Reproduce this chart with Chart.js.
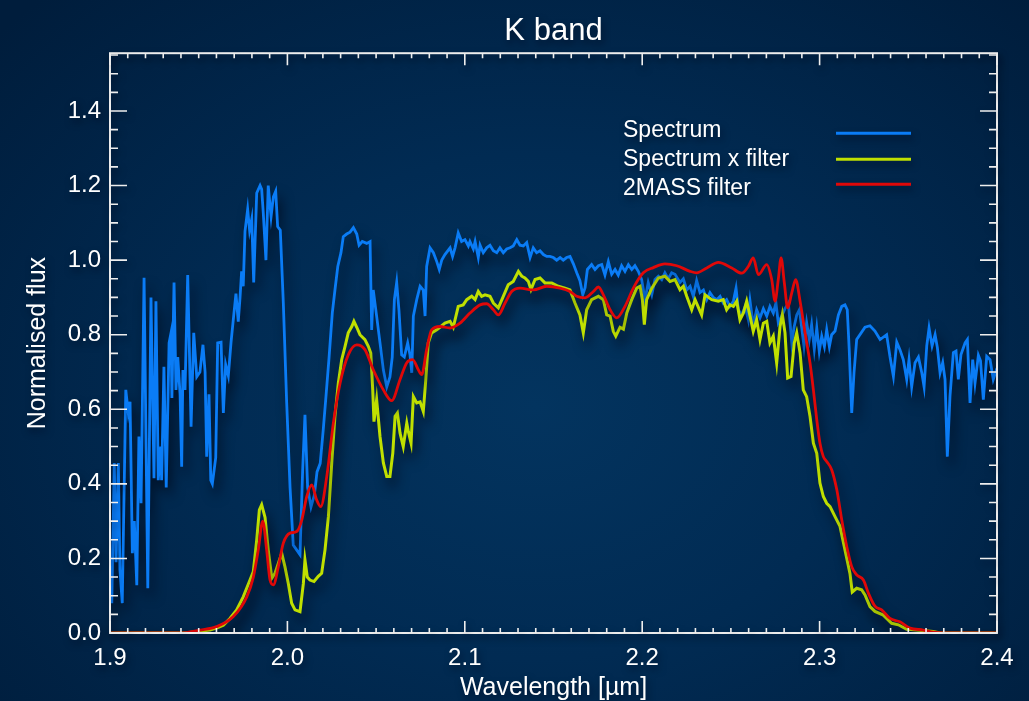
<!DOCTYPE html>
<html>
<head>
<meta charset="utf-8">
<title>K band</title>
<script src="https://cdn.jsdelivr.net/npm/chart.js@4/dist/chart.umd.min.js"></script>
<style>
  html, body {
    margin: 0;
    padding: 0;
    width: 1029px;
    height: 701px;
    overflow: hidden;
    background: radial-gradient(ellipse 70% 80% at 52% 58%, #03345f 0%, #012b53 45%, #001d3c 100%);
  }
  canvas { display: block; }
</style>
</head>
<body>
<canvas id="kband" width="1029" height="701"></canvas>
<script>
// Spectrum (wavelength in micron, normalised flux)
const specWave = [
  1.9000, 1.9010, 1.9024, 1.9034, 1.9047, 1.9056, 1.9069, 1.9089, 1.9103, 1.9113,
  1.9126, 1.9137, 1.9151, 1.9163, 1.9175, 1.9192, 1.9213, 1.9231, 1.9248, 1.9259,
  1.9272, 1.9286, 1.9291, 1.9304, 1.9317, 1.9333, 1.9344, 1.9349, 1.9361, 1.9372,
  1.9382, 1.9395, 1.9404, 1.9411, 1.9423, 1.9438, 1.9445, 1.9457, 1.9472, 1.9489,
  1.9507, 1.9524, 1.9536, 1.9545, 1.9558, 1.9568, 1.9577, 1.9596, 1.9607, 1.9626,
  1.9639, 1.9652, 1.9667, 1.9682, 1.9697, 1.9710, 1.9723, 1.9733, 1.9742, 1.9751,
  1.9761, 1.9776, 1.9787, 1.9799, 1.9810, 1.9827, 1.9846, 1.9855, 1.9864, 1.9879,
  1.9892, 1.9908, 1.9921, 1.9934, 1.9945, 1.9960, 1.9977, 1.9996, 2.0015, 2.0033,
  2.0052, 2.0071, 2.0086, 2.0099, 2.0114, 2.0133, 2.0152, 2.0167, 2.0185, 2.0202,
  2.0216, 2.0235, 2.0253, 2.0268, 2.0284, 2.0302, 2.0315, 2.0334, 2.0353, 2.0372,
  2.0391, 2.0404, 2.0422, 2.0447, 2.0466, 2.0475, 2.0484, 2.0503, 2.0522, 2.0541,
  2.0560, 2.0578, 2.0591, 2.0603, 2.0616, 2.0629, 2.0644, 2.0659, 2.0678, 2.0691,
  2.0701, 2.0710, 2.0729, 2.0748, 2.0766, 2.0776, 2.0785, 2.0804, 2.0823, 2.0842,
  2.0856, 2.0870, 2.0888, 2.0917, 2.0931, 2.0945, 2.0963, 2.0982, 2.1001, 2.1020,
  2.1029, 2.1048, 2.1058, 2.1076, 2.1086, 2.1104, 2.1123, 2.1142, 2.1161, 2.1180,
  2.1198, 2.1217, 2.1236, 2.1255, 2.1273, 2.1293, 2.1311, 2.1330, 2.1349, 2.1368,
  2.1386, 2.1405, 2.1424, 2.1443, 2.1462, 2.1480, 2.1499, 2.1518, 2.1537, 2.1555,
  2.1574, 2.1593, 2.1612, 2.1631, 2.1649, 2.1665, 2.1678, 2.1691, 2.1715, 2.1734,
  2.1753, 2.1772, 2.1790, 2.1809, 2.1828, 2.1847, 2.1865, 2.1884, 2.1903, 2.1922,
  2.1941, 2.1959, 2.1978, 2.1997, 2.2016, 2.2034, 2.2054, 2.2072, 2.2091, 2.2110,
  2.2128, 2.2147, 2.2166, 2.2185, 2.2213, 2.2232, 2.2251, 2.2270, 2.2288, 2.2307,
  2.2326, 2.2345, 2.2364, 2.2382, 2.2401, 2.2420, 2.2439, 2.2457, 2.2476, 2.2495,
  2.2514, 2.2529, 2.2542, 2.2561, 2.2580, 2.2598, 2.2608, 2.2626, 2.2645, 2.2664,
  2.2683, 2.2702, 2.2720, 2.2739, 2.2754, 2.2767, 2.2786, 2.2805, 2.2824, 2.2843,
  2.2856, 2.2871, 2.2886, 2.2899, 2.2912, 2.2927, 2.2942, 2.2955, 2.2970, 2.2984,
  2.2998, 2.3012, 2.3027, 2.3040, 2.3055, 2.3068, 2.3087, 2.3106, 2.3125, 2.3143,
  2.3156, 2.3167, 2.3181, 2.3194, 2.3209, 2.3256, 2.3284, 2.3312, 2.3341, 2.3378,
  2.3397, 2.3416, 2.3435, 2.3453, 2.3472, 2.3491, 2.3504, 2.3519, 2.3538, 2.3557,
  2.3576, 2.3589, 2.3604, 2.3617, 2.3634, 2.3651, 2.3664, 2.3679, 2.3694, 2.3707,
  2.3720, 2.3735, 2.3754, 2.3769, 2.3782, 2.3797, 2.3820, 2.3833, 2.3848, 2.3863,
  2.3876, 2.3895, 2.3907, 2.3923, 2.3942, 2.3961, 2.3979, 2.4000
];
const specFlux = [
  0.160, 0.080, 0.456, 0.190, 0.456, 0.170, 0.080, 0.652, 0.590, 0.620,
  0.214, 0.300, 0.128, 0.527, 0.348, 0.953, 0.120, 0.900, 0.415, 0.890,
  0.410, 0.500, 0.410, 0.714, 0.390, 0.778, 0.805, 0.630, 0.940, 0.652,
  0.740, 0.640, 0.446, 0.705, 0.652, 0.960, 0.813, 0.553, 0.805, 0.687,
  0.700, 0.773, 0.700, 0.473, 0.640, 0.410, 0.400, 0.470, 0.778, 0.780,
  0.590, 0.720, 0.690, 0.778, 0.850, 0.910, 0.835, 0.900, 0.970, 0.930,
  1.077, 1.136, 1.080, 1.110, 0.940, 1.180, 1.200, 1.190, 1.127, 1.000,
  1.200, 1.117, 1.170, 1.185, 1.090, 1.080, 0.885, 0.617, 0.390, 0.236,
  0.223, 0.210, 0.437, 0.585, 0.390, 0.338, 0.370, 0.432, 0.455, 0.545,
  0.626, 0.740, 0.858, 0.920, 0.983, 1.020, 1.063, 1.070, 1.075, 1.087,
  1.070, 1.040, 1.050, 1.045, 1.050, 0.813, 0.920, 0.850, 0.778, 0.705,
  0.660, 0.687, 0.740, 0.894, 0.940, 0.865, 0.746, 0.740, 0.778, 0.746,
  0.698, 0.850, 0.894, 0.930, 0.920, 0.850, 0.983, 1.033, 1.020, 0.996,
  0.975, 1.000, 1.015, 1.033, 1.010, 1.033, 1.073, 1.050, 1.055, 1.038,
  1.050, 1.030, 1.050, 1.007, 1.040, 1.020, 1.033, 1.040, 1.025, 1.020,
  1.033, 1.020, 1.030, 1.033, 1.038, 1.055, 1.040, 1.038, 1.047, 1.007,
  1.033, 1.020, 1.025, 1.015, 1.010, 1.010, 1.007, 1.000, 1.007, 1.000,
  1.007, 1.010, 0.990, 0.966, 0.945, 0.907, 0.926, 0.975, 0.988, 0.975,
  0.985, 0.988, 0.960, 0.996, 0.962, 0.975, 0.960, 0.985, 0.970, 0.988,
  0.975, 0.985, 0.970, 0.948, 0.894, 0.940, 0.907, 0.948, 0.957, 0.948,
  0.966, 0.950, 0.966, 0.962, 0.940, 0.950, 0.920, 0.930, 0.903, 0.945,
  0.913, 0.920, 0.894, 0.913, 0.900, 0.894, 0.903, 0.885, 0.894, 0.876,
  0.890, 0.925, 0.867, 0.853, 0.876, 0.840, 0.890, 0.827, 0.867, 0.845,
  0.870, 0.850, 0.876, 0.858, 0.885, 0.832, 0.850, 0.870, 0.885, 0.778,
  0.820, 0.853, 0.867, 0.820, 0.768, 0.832, 0.787, 0.827, 0.760, 0.818,
  0.755, 0.796, 0.768, 0.813, 0.768, 0.800, 0.810, 0.853, 0.876, 0.880,
  0.867, 0.760, 0.590, 0.698, 0.787, 0.820, 0.824, 0.810, 0.787, 0.800,
  0.740, 0.688, 0.780, 0.760, 0.733, 0.680, 0.733, 0.660, 0.725, 0.740,
  0.698, 0.660, 0.770, 0.818, 0.770, 0.800, 0.765, 0.698, 0.725, 0.680,
  0.473, 0.635, 0.752, 0.756, 0.680, 0.747, 0.778, 0.787, 0.617, 0.733,
  0.670, 0.745, 0.730, 0.626, 0.742, 0.733, 0.680, 0.710
];

// Spectrum multiplied by the filter
const prodWave = [
  1.9000, 1.9423, 1.9470, 1.9564, 1.9601, 1.9639, 1.9676, 1.9714, 1.9751, 1.9789,
  1.9808, 1.9827, 1.9842, 1.9855, 1.9874, 1.9892, 1.9912, 1.9930, 1.9949, 1.9968,
  1.9986, 2.0005, 2.0024, 2.0043, 2.0071, 2.0090, 2.0099, 2.0112, 2.0127, 2.0150,
  2.0174, 2.0193, 2.0212, 2.0231, 2.0250, 2.0268, 2.0287, 2.0306, 2.0325, 2.0343,
  2.0363, 2.0375, 2.0391, 2.0409, 2.0437, 2.0456, 2.0470, 2.0481, 2.0488, 2.0503,
  2.0522, 2.0541, 2.0560, 2.0578, 2.0594, 2.0607, 2.0620, 2.0635, 2.0653, 2.0673,
  2.0682, 2.0697, 2.0710, 2.0729, 2.0748, 2.0766, 2.0780, 2.0794, 2.0813, 2.0842,
  2.0860, 2.0888, 2.0917, 2.0935, 2.0963, 2.0991, 2.1011, 2.1039, 2.1058, 2.1076,
  2.1095, 2.1114, 2.1142, 2.1161, 2.1189, 2.1217, 2.1245, 2.1273, 2.1302, 2.1321,
  2.1339, 2.1358, 2.1373, 2.1396, 2.1424, 2.1452, 2.1490, 2.1527, 2.1565, 2.1593,
  2.1621, 2.1649, 2.1668, 2.1687, 2.1715, 2.1753, 2.1781, 2.1800, 2.1819, 2.1837,
  2.1851, 2.1875, 2.1894, 2.1913, 2.1941, 2.1969, 2.1988, 2.2001, 2.2012, 2.2025,
  2.2054, 2.2091, 2.2128, 2.2157, 2.2185, 2.2213, 2.2232, 2.2251, 2.2279, 2.2298,
  2.2335, 2.2354, 2.2392, 2.2429, 2.2457, 2.2476, 2.2495, 2.2514, 2.2533, 2.2551,
  2.2570, 2.2589, 2.2608, 2.2626, 2.2645, 2.2664, 2.2683, 2.2702, 2.2720, 2.2739,
  2.2758, 2.2777, 2.2790, 2.2805, 2.2820, 2.2839, 2.2857, 2.2871, 2.2890, 2.2908,
  2.2927, 2.2946, 2.2965, 2.2984, 2.3002, 2.3021, 2.3040, 2.3059, 2.3087, 2.3115,
  2.3143, 2.3171, 2.3184, 2.3209, 2.3237, 2.3256, 2.3284, 2.3312, 2.3359, 2.3406,
  2.3444, 2.3491, 2.3548, 2.3641, 2.3679, 2.4000
];
const prodFlux = [
  0.000, 0.000, 0.003, 0.008, 0.013, 0.021, 0.039, 0.062, 0.097, 0.142,
  0.165, 0.250, 0.330, 0.344, 0.310, 0.223, 0.147, 0.160, 0.187, 0.214,
  0.178, 0.133, 0.080, 0.062, 0.057, 0.133, 0.196, 0.150, 0.142, 0.138,
  0.152, 0.160, 0.223, 0.312, 0.456, 0.581, 0.670, 0.733, 0.769, 0.805,
  0.822, 0.836, 0.820, 0.800, 0.787, 0.769, 0.751, 0.652, 0.567, 0.626,
  0.527, 0.456, 0.420, 0.420, 0.482, 0.581, 0.590, 0.536, 0.500, 0.563,
  0.540, 0.509, 0.634, 0.617, 0.620, 0.594, 0.679, 0.778, 0.805, 0.813,
  0.820, 0.831, 0.836, 0.820, 0.876, 0.880, 0.894, 0.903, 0.894, 0.916,
  0.903, 0.907, 0.903, 0.885, 0.872, 0.903, 0.934, 0.943, 0.970, 0.957,
  0.952, 0.943, 0.921, 0.948, 0.952, 0.939, 0.939, 0.930, 0.925, 0.920,
  0.885, 0.853, 0.805, 0.867, 0.894, 0.903, 0.894, 0.853, 0.850, 0.809,
  0.796, 0.820, 0.815, 0.858, 0.894, 0.925, 0.930, 0.894, 0.827, 0.894,
  0.925, 0.952, 0.957, 0.943, 0.948, 0.921, 0.930, 0.903, 0.867, 0.894,
  0.853, 0.907, 0.894, 0.890, 0.894, 0.867, 0.880, 0.876, 0.890, 0.840,
  0.858, 0.890, 0.850, 0.809, 0.840, 0.787, 0.831, 0.836, 0.778, 0.796,
  0.724, 0.822, 0.854, 0.805, 0.684, 0.688, 0.778, 0.805, 0.751, 0.652,
  0.634, 0.581, 0.509, 0.482, 0.402, 0.366, 0.348, 0.339, 0.312, 0.286,
  0.223, 0.160, 0.110, 0.120, 0.116, 0.102, 0.071, 0.058, 0.048, 0.026,
  0.022, 0.010, 0.008, 0.004, 0.000, 0.000
];

// 2MASS Ks filter transmission
const filterWave = [
  1.9000, 1.9395, 1.9507, 1.9601, 1.9695, 1.9771, 1.9808, 1.9836, 1.9861, 1.9883,
  1.9902, 1.9921, 1.9949, 1.9977, 2.0015, 2.0052, 2.0081, 2.0109, 2.0137, 2.0165,
  2.0188, 2.0222, 2.0259, 2.0297, 2.0343, 2.0391, 2.0437, 2.0484, 2.0541, 2.0588,
  2.0635, 2.0673, 2.0706, 2.0738, 2.0757, 2.0785, 2.0813, 2.0860, 2.0917, 2.0973,
  2.1029, 2.1086, 2.1123, 2.1161, 2.1189, 2.1227, 2.1264, 2.1311, 2.1386, 2.1462,
  2.1537, 2.1593, 2.1631, 2.1678, 2.1725, 2.1753, 2.1781, 2.1819, 2.1856, 2.1903,
  2.1950, 2.2006, 2.2063, 2.2128, 2.2195, 2.2270, 2.2307, 2.2364, 2.2429, 2.2505,
  2.2561, 2.2598, 2.2626, 2.2655, 2.2702, 2.2730, 2.2749, 2.2767, 2.2783, 2.2801,
  2.2820, 2.2843, 2.2865, 2.2890, 2.2918, 2.2946, 2.2965, 2.2984, 2.3002, 2.3021,
  2.3040, 2.3068, 2.3097, 2.3125, 2.3153, 2.3181, 2.3209, 2.3247, 2.3275, 2.3312,
  2.3350, 2.3397, 2.3453, 2.3510, 2.3585, 2.3641, 2.3700, 2.4000
];
const filterFlux = [
  0.000, 0.000, 0.008, 0.017, 0.044, 0.097, 0.150, 0.223, 0.300, 0.223,
  0.142, 0.129, 0.178, 0.241, 0.268, 0.272, 0.303, 0.366, 0.397, 0.357,
  0.339, 0.420, 0.563, 0.670, 0.746, 0.773, 0.760, 0.706, 0.652, 0.623,
  0.680, 0.725, 0.733, 0.706, 0.693, 0.760, 0.813, 0.822, 0.818, 0.831,
  0.858, 0.880, 0.883, 0.867, 0.853, 0.885, 0.916, 0.925, 0.920, 0.930,
  0.925, 0.916, 0.903, 0.899, 0.916, 0.928, 0.907, 0.867, 0.845, 0.876,
  0.925, 0.966, 0.980, 0.990, 0.985, 0.970, 0.966, 0.979, 0.994, 0.979,
  0.965, 0.983, 1.006, 0.961, 0.988, 0.948, 0.890, 0.948, 1.006, 0.940,
  0.872, 0.912, 0.948, 0.890, 0.805, 0.724, 0.652, 0.572, 0.509, 0.473,
  0.460, 0.438, 0.384, 0.303, 0.232, 0.178, 0.156, 0.142, 0.107, 0.072,
  0.062, 0.039, 0.030, 0.013, 0.008, 0.002, 0.000, 0.000
];

const xTicks = [1.9, 2.0, 2.1, 2.2, 2.3, 2.4];
const yTicks = [0.0, 0.2, 0.4, 0.6, 0.8, 1.0, 1.2, 1.4];
const xMin = 1.9, xMax = 2.4;
const yMin = 0, yMax = 1.555;

const seriesNames = ['Spectrum', 'Spectrum x filter', '2MASS filter'];
const seriesColors = ['#0a7cf6', '#c0e000', '#e00808'];

const FONT = '"Liberation Sans", Arial, Helvetica, sans-serif';

function toPoints(xs, ys) {
  return xs.map((x, i) => ({ x: x, y: ys[i] }));
}

// IDL-style box: frame with inward major/minor ticks on all four sides,
// drop shadows under the curves, and a text-then-line legend
const boxPlugin = {
  id: 'idlBox',
  beforeDraw(chart) {
    const ctx = chart.ctx;
    ctx.save();
    ctx.shadowColor = 'rgba(0, 8, 25, 0.55)';
    ctx.shadowBlur = 7;
    ctx.shadowOffsetX = 2;
    ctx.shadowOffsetY = 4;
  },
  beforeDatasetsDraw(chart) {
    const ctx = chart.ctx;
    ctx.save();
    ctx.shadowColor = 'rgba(0, 6, 20, 0.7)';
    ctx.shadowBlur = 12;
    ctx.shadowOffsetX = 4;
    ctx.shadowOffsetY = 9;
  },
  afterDatasetsDraw(chart) {
    const ctx = chart.ctx;
    ctx.restore();
    const a = chart.chartArea;
    const xs = chart.scales.x, ys = chart.scales.y;

    ctx.save();
    ctx.strokeStyle = '#eeeeee';
    ctx.lineWidth = 2;
    ctx.strokeRect(a.left, a.top, a.right - a.left, a.bottom - a.top);

    ctx.lineWidth = 1.6;
    ctx.beginPath();
    for (let i = Math.round(xMin * 100); i <= Math.round(xMax * 100); i++) {
      const px = xs.getPixelForValue(i / 100);
      const len = i % 10 === 0 ? 12 : 5;
      ctx.moveTo(px, a.bottom);
      ctx.lineTo(px, a.bottom - len);
      ctx.moveTo(px, a.top);
      ctx.lineTo(px, a.top + len);
    }
    for (let j = 0; j * 0.05 <= yMax + 1e-9; j++) {
      const py = ys.getPixelForValue(j * 0.05);
      const len = j % 4 === 0 ? 17 : 8;
      ctx.moveTo(a.left, py);
      ctx.lineTo(a.left + len, py);
      ctx.moveTo(a.right, py);
      ctx.lineTo(a.right - len, py);
    }
    ctx.stroke();
    ctx.restore();
  },
  afterDraw(chart) {
    const ctx = chart.ctx;
    const a = chart.chartArea;
    // legend: label on the left, line sample on the right
    const textX = a.left + 513;
    const lineX0 = a.left + 726, lineX1 = a.left + 801;
    const textY = [a.top + 77, a.top + 106, a.top + 135];
    const lineY = [a.top + 80, a.top + 106, a.top + 131];
    ctx.font = '23px ' + FONT;
    ctx.textBaseline = 'middle';
    ctx.textAlign = 'left';
    chart.data.datasets.forEach((ds, i) => {
      ctx.fillStyle = '#ffffff';
      ctx.fillText(ds.label, textX, textY[i]);
      ctx.strokeStyle = ds.borderColor;
      ctx.lineWidth = 3;
      ctx.beginPath();
      ctx.moveTo(lineX0, lineY[i]);
      ctx.lineTo(lineX1, lineY[i]);
      ctx.stroke();
    });
    ctx.restore();
  }
};

const ctx = document.getElementById('kband');
new Chart(ctx, {
  type: 'line',
  data: {
    datasets: [
      {
        label: seriesNames[0],
        data: toPoints(specWave, specFlux),
        borderColor: seriesColors[0],
        borderWidth: 2.8,
        pointRadius: 0,
        tension: 0,
        order: 3
      },
      {
        label: seriesNames[1],
        data: toPoints(prodWave, prodFlux),
        borderColor: seriesColors[1],
        borderWidth: 3,
        pointRadius: 0,
        tension: 0,
        order: 2
      },
      {
        label: seriesNames[2],
        data: toPoints(filterWave, filterFlux),
        borderColor: seriesColors[2],
        borderWidth: 2.8,
        pointRadius: 0,
        cubicInterpolationMode: 'monotone',
        order: 1
      }
    ]
  },
  options: {
    responsive: false,
    animation: false,
    devicePixelRatio: 1,
    layout: { padding: { top: 0, right: 32, bottom: 0, left: 0 } },
    plugins: {
      legend: { display: false },
      tooltip: { enabled: false },
      title: {
        display: true,
        text: 'K band',
        color: '#ffffff',
        fullSize: false,
        font: { family: FONT, size: 31, weight: 'normal' },
        padding: { top: 13, bottom: 3 }
      }
    },
    scales: {
      x: {
        type: 'linear',
        min: xMin,
        max: xMax,
        afterBuildTicks: s => { s.ticks = xTicks.map(v => ({ value: v })); },
        afterFit: s => { s.height = 68; },
        grid: { display: false, drawTicks: false },
        border: { display: false },
        ticks: {
          color: '#ffffff',
          padding: 11,
          maxRotation: 0,
          font: { family: FONT, size: 24 },
          callback: v => Number(v).toFixed(1)
        },
        title: {
          display: true,
          text: 'Wavelength [µm]',
          color: '#ffffff',
          font: { family: FONT, size: 25 },
          padding: { top: 0, bottom: -2 }
        }
      },
      y: {
        type: 'linear',
        min: yMin,
        max: yMax,
        afterBuildTicks: s => { s.ticks = yTicks.map(v => ({ value: v })); },
        afterFit: s => { s.width = 110; },
        grid: { display: false, drawTicks: false },
        border: { display: false },
        ticks: {
          color: '#ffffff',
          padding: 9,
          font: { family: FONT, size: 24 },
          callback: v => Number(v).toFixed(1)
        },
        title: {
          display: true,
          text: 'Normalised flux',
          color: '#ffffff',
          font: { family: FONT, size: 25 },
          padding: { top: 23, bottom: 0 }
        }
      }
    }
  },
  plugins: [boxPlugin]
});
</script>
</body>
</html>
